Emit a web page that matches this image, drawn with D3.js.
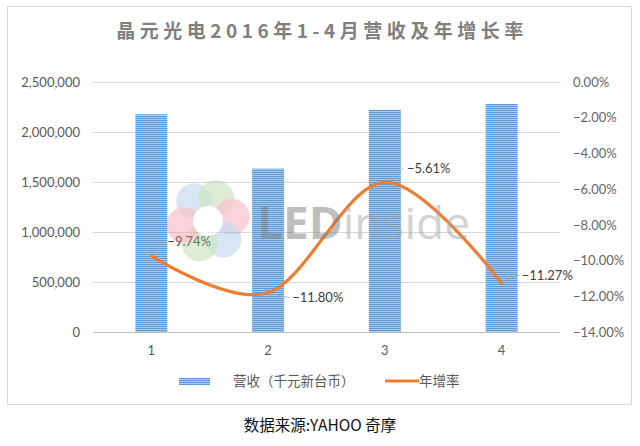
<!DOCTYPE html>
<html><head><meta charset="utf-8">
<script src="https://cdn.jsdelivr.net/npm/d3@7"></script>
<style>body{margin:0;background:#fff}svg{display:block}</style>
</head><body>
<svg id="c" width="640" height="446"></svg>
<script>
const categories = ["1", "2", "3", "4"];
const revenue = [2177000, 1634000, 2222000, 2280000];
const growth = [-9.74, -11.80, -5.61, -11.27];
const leftTicks = [0, 500000, 1000000, 1500000, 2000000, 2500000];
const rightTicks = [0, -2, -4, -6, -8, -10, -12, -14];
const titleText = "晶元光电2016年1-4月营收及年增长率";
const legendRevenue = "营收（千元新台币）";
const legendGrowth = "年增率";
const sourceText = "数据来源:YAHOO 奇摩";

const svg = d3.select("#c");
const W = 640, H = 446;
const m = {l: 93, r: 560, t: 82, b: 332};
const latin = "Lato, 'Noto Sans', sans-serif";
const cjk = "'Noto Sans CJK SC', 'Noto Sans', sans-serif";

const defs = svg.append("defs");
const pat = defs.append("pattern").attr("id", "stripe").attr("patternUnits", "userSpaceOnUse")
  .attr("width", 4).attr("height", 2);
pat.append("rect").attr("width", 4).attr("height", 2).attr("fill", "#a6c9ec");
pat.append("rect").attr("width", 4).attr("height", 1).attr("fill", "#5d9bd8");

// chart border
svg.append("rect").attr("x", 7.5).attr("y", 6.5).attr("width", 624).attr("height", 398)
  .attr("fill", "#fff").attr("stroke", "#d9d9d9");

const x = d3.scaleBand().domain(categories).range([m.l, m.r]);
const yL = d3.scaleLinear().domain([0, 2500000]).range([m.b, m.t]);
const yR = d3.scaleLinear().domain([-14, 0]).range([m.b, m.t]);

// gridlines
svg.append("g").selectAll("line").data(leftTicks).join("line")
  .attr("x1", m.l).attr("x2", m.r)
  .attr("y1", d => Math.round(yL(d)) + 0.5).attr("y2", d => Math.round(yL(d)) + 0.5)
  .attr("stroke", d => d === 0 ? "#bfbfbf" : "#d9d9d9").attr("stroke-width", 1);

// left axis
const axL = svg.append("g").attr("transform", `translate(${m.l - 6},0)`)
  .call(d3.axisLeft(yL).tickValues(leftTicks).tickSize(0).tickPadding(7).tickFormat(d3.format(",")));
axL.select(".domain").remove();
axL.selectAll("text").attr("font-family", latin).attr("font-size", 13).attr("fill", "#595959");

// right axis
const axR = svg.append("g").attr("transform", `translate(${m.r + 6},0)`)
  .call(d3.axisRight(yR).tickValues(rightTicks).tickSize(0).tickPadding(7).tickFormat(d => d3.format(".2f")(d) + "%"));
axR.select(".domain").remove();
axR.selectAll("text").attr("font-family", latin).attr("font-size", 13).attr("fill", "#666");

// bottom axis
const axB = svg.append("g").attr("transform", `translate(0,${m.b})`)
  .call(d3.axisBottom(x).tickSize(0).tickPadding(14));
axB.select(".domain").remove();
axB.selectAll("text").attr("font-family", latin).attr("font-size", 13).attr("fill", "#595959");

// bars
const bw = 32;
svg.append("g").selectAll("rect").data(revenue).join("rect")
  .attr("x", (d, i) => x(categories[i]) + x.bandwidth() / 2 - bw / 2)
  .attr("width", bw)
  .attr("y", d => yL(d))
  .attr("height", d => yL(0) - yL(d))
  .attr("fill", "url(#stripe)");

// line
const cx = (i) => x(categories[i]) + x.bandwidth() / 2;
const line = d3.line().x((d, i) => cx(i)).y(d => yR(d)).curve(d3.curveCardinal.tension(0));
svg.append("path").datum(growth).attr("d", line)
  .attr("fill", "none").attr("stroke", "#ed7d31").attr("stroke-width", 3.2).attr("stroke-linecap", "round");

// data labels with leader lines
const lblOff = [[16, -14], [24, 5], [22, -14], [20, -8]];
const lbl = svg.append("g");
growth.forEach((v, i) => {
  const px = cx(i), py = yR(v);
  const lx = px + lblOff[i][0], ly = py + lblOff[i][1];
  lbl.append("line").attr("x1", px + 4).attr("y1", py + (lblOff[i][1] < 0 ? -3 : 1))
    .attr("x2", lx - 3).attr("y2", ly).attr("stroke", "#a6a6a6").attr("stroke-width", 0.8);
  lbl.append("text").attr("x", lx).attr("y", ly).attr("dy", "0.35em")
    .attr("font-family", latin).attr("font-size", 13).attr("fill", "#404040")
    .text(d3.format(".2f")(v) + "%");
});

// watermark
const wm = svg.append("g").attr("opacity", 0.5);
const fc = [208, 221];
const petals = [
  {a: -125, c: "#8fb8e3"}, {a: -70, c: "#9ccf86"}, {a: -10, c: "#f7879a"},
  {a: 50, c: "#8fb8e3"}, {a: 110, c: "#9ccf86"}, {a: 170, c: "#f7879a"}
];
petals.forEach(p => {
  const r = p.a * Math.PI / 180;
  wm.append("circle").attr("cx", fc[0] + 24 * Math.cos(r)).attr("cy", fc[1] + 24 * Math.sin(r))
    .attr("r", 18).attr("fill", p.c).attr("opacity", 0.7);
});
wm.append("circle").attr("cx", fc[0]).attr("cy", fc[1]).attr("r", 15).attr("fill", "#fff");
const wt = wm.append("text").attr("x", 257).attr("y", 239).attr("font-family", "'Open Sans', sans-serif")
  .attr("font-size", 44).attr("textLength", 213).attr("lengthAdjust", "spacingAndGlyphs");
wt.append("tspan").attr("fill", "#7f7f7f").attr("font-weight", "bold").text("LED");
wt.append("tspan").attr("fill", "#a6a6a6").text("inside");

// title
svg.append("text").attr("x", 322).attr("y", 38).attr("text-anchor", "middle")
  .attr("font-family", cjk).attr("font-size", 19).attr("font-weight", "bold")
  .attr("letter-spacing", 4.5).attr("fill", "#808080").text(titleText);

// legend
svg.append("rect").attr("x", 179).attr("y", 378).attr("width", 31).attr("height", 7).attr("fill", "url(#stripe)");
svg.append("text").attr("x", 233).attr("y", 381).attr("dy", "0.35em")
  .attr("font-family", cjk).attr("font-size", 13.5).attr("fill", "#595959").text(legendRevenue);
svg.append("line").attr("x1", 385).attr("x2", 419).attr("y1", 381).attr("y2", 381)
  .attr("stroke", "#ed7d31").attr("stroke-width", 3.2);
svg.append("text").attr("x", 419).attr("y", 381).attr("dy", "0.35em")
  .attr("font-family", cjk).attr("font-size", 13.5).attr("fill", "#595959").text(legendGrowth);

// source
svg.append("text").attr("x", 320).attr("y", 431).attr("text-anchor", "middle")
  .attr("font-family", cjk).attr("font-size", 15.5).attr("fill", "#111").text(sourceText);
</script>
</body></html>
